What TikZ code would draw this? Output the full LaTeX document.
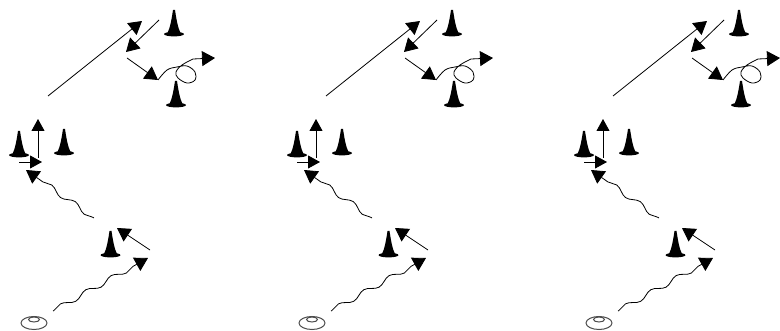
\documentclass[tikz,border=0pt]{standalone}
\usetikzlibrary{arrows.meta,decorations.pathmorphing,shapes.geometric}

\begin{document}
\begin{tikzpicture}[x=1pt,y=-1pt,
 arr/.style={-{Triangle[length=13pt,width=15pt]}, line width=.8pt},
 small/.style={-{Triangle[length=12pt,width=13pt]}, line width=.8pt},
 wave/.style={arr, decorate, decoration={snake, segment length=29pt, amplitude=2.6pt, pre length=1pt, post length=13pt}},
 disc/.style={draw=black!70, ellipse, line width=1pt, inner sep=0pt},
 cone/.pic={\fill[black] (-1,-26) .. controls (-2.5,-16) and (-4,-8) .. (-6.5,-3) -- (6.5,-3) .. controls (4,-8) and (2.5,-16) .. (1,-26) -- cycle;
  \fill[black] (0,-1.9) ellipse (10 and 2.3);}]
\useasboundingbox (0,0) rectangle (780,331);
\foreach \dx in {0,278,565}{
\begin{scope}[xshift=\dx pt]
\coordinate (start) at (53,311);
\coordinate (turn) at (148,258);
\coordinate (back) at (150,250);
\coordinate (coneend) at (117,228);
\coordinate (wavestart) at (94,218);
\coordinate (gate) at (26,170);
\coordinate (upfoot) at (38,158);
\coordinate (uptop) at (38,119);
\coordinate (sidefoot) at (19,162);
\coordinate (sidetip) at (42,162);
\coordinate (longfoot) at (48,96);
\coordinate (longtip) at (142,21);
\coordinate (downfoot) at (159,20);
\coordinate (downtip) at (126,52);
\coordinate (cutfoot) at (127,58);
\coordinate (cuttip) at (158,80);
\coordinate (exit) at (215,58);
\pic at (174,36) {cone};
\pic at (176,107) {cone};
\pic at (19,157) {cone};
\pic at (64,155) {cone};
\pic at (110.5,257) {cone};
\node[disc, minimum width=26pt, minimum height=13pt] (base) at (34,323) {};
\node[disc, minimum width=11pt, minimum height=5pt] (basetop) at (34,319.5) {};
\draw[wave] (start)--(turn);
\draw[arr] (back)--(coneend);
\draw[wave] (wavestart)--(gate);
\draw[small] (upfoot)--(uptop);
\draw[small] (sidefoot)--(sidetip);
\draw[arr] (longfoot)--(longtip);
\draw[arr] (downfoot)--(downtip);
\draw[arr] (cutfoot)--(cuttip);
\draw[arr] plot[smooth,tension=.6] coordinates {(cuttip) (167,70) (177,67) (187,66) (195,72) (195,80) (187,83) (178,78) (176,72) (182,65) (193,59)} -- (exit);
\end{scope}}
\end{tikzpicture}
\end{document}
